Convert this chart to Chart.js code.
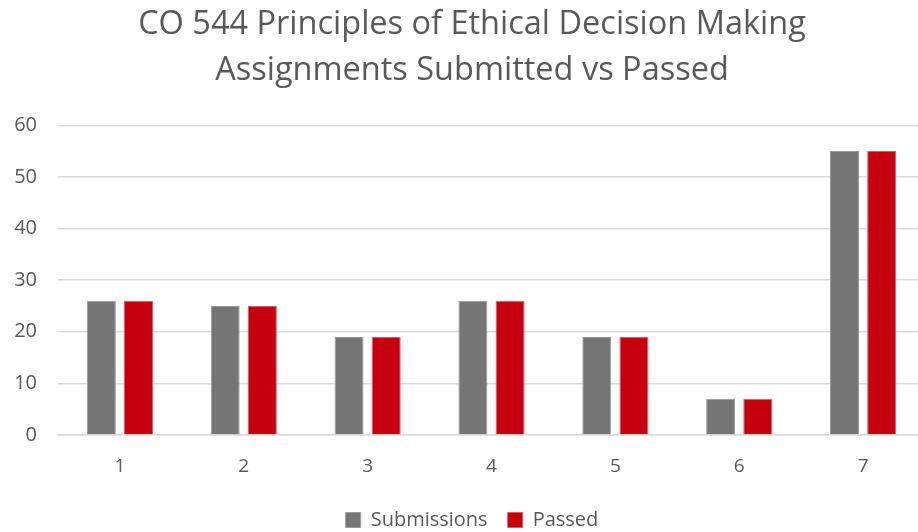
<!DOCTYPE html>
<html>
<head>
<meta charset="utf-8">
<script src="https://cdn.jsdelivr.net/npm/chart.js"></script>
<style>
  html, body { margin: 0; padding: 0; background: #fff; overflow: hidden; }
  #wrap { width: 944px; height: 540px; }
</style>
</head>
<body>
<div id="wrap"><canvas id="chart"></canvas></div>
<script>
// datos
const categories = ['1', '2', '3', '4', '5', '6', '7'];
const submissions = [26, 25, 19, 26, 19, 7, 55];
const passed = [26, 25, 19, 26, 19, 7, 55];
const yTicks = [0, 10, 20, 30, 40, 50, 60];

const txt = '#595959';
const font = '"Open Sans", "Liberation Sans", sans-serif';

new Chart(document.getElementById('chart'), {
    type: 'bar',
    data: {
        labels: categories,
        datasets: [
            { label: 'Submissions', data: submissions, backgroundColor: '#757575', borderColor: '#9a9a9a', borderWidth: 1 },
            { label: 'Passed', data: passed, backgroundColor: '#c7000f', borderColor: '#e05a63', borderWidth: 1 }
        ]
    },
    options: {
        responsive: true,
        maintainAspectRatio: false,
        animation: false,
        datasets: { bar: { categoryPercentage: 0.6, barPercentage: 0.78 } },
        layout: { padding: 0 },
        plugins: {
            title: {
                display: true,
                text: ['CO 544 Principles of Ethical Decision Making', 'Assignments Submitted vs Passed'],
                color: txt,
                font: { family: font, size: 32.5, weight: 'normal', lineHeight: 1.42 },
                padding: { top: 2, bottom: 31 }
            },
            legend: {
                position: 'bottom',
                labels: {
                    color: txt,
                    font: { family: font, size: 20 },
                    boxWidth: 15,
                    boxHeight: 15,
                    padding: 20
                }
            },
            tooltip: { enabled: false }
        },
        scales: {
            x: {
                grid: { display: false, drawTicks: false },
                border: { color: '#d9d9d9', width: 1.5 },
                ticks: { color: txt, font: { family: font, size: 19 }, padding: 20 },
                afterFit: (s) => { s.height = 55; }
            },
            y: {
                min: 0,
                max: 60,
                afterBuildTicks: (s) => { s.ticks = yTicks.map(v => ({ value: v })); },
                afterFit: (s) => { s.width = 58; },
                grid: { color: '#d9d9d9', lineWidth: 1.5, drawTicks: false },
                border: { display: false },
                ticks: { color: txt, font: { family: font, size: 20 }, padding: 21 }
            },
            // eje vacío a la derecha, solo para dejar sitio
            y2: {
                position: 'right',
                grid: { display: false, drawTicks: false },
                border: { display: false },
                ticks: { display: false },
                afterFit: (s) => { s.width = 19; }
            }
        }
    }
});
</script>
</body>
</html>
